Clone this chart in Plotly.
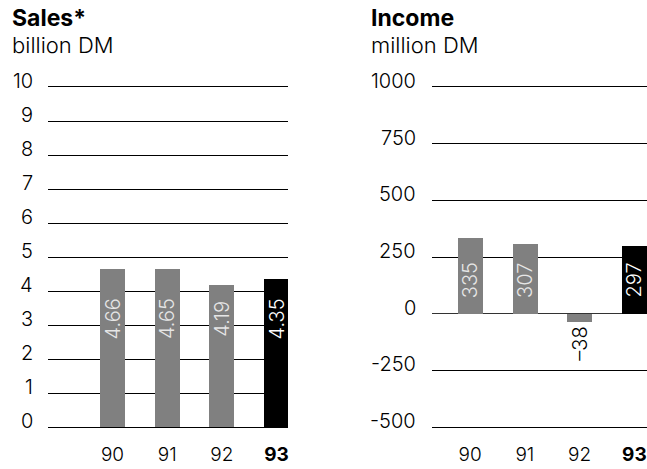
import plotly.graph_objects as go

# ---- data ----
years = ["90", "91", "92", "93"]
sales = [4.66, 4.65, 4.19, 4.35]          # billion DM
income = [335, 307, -38, 297]              # million DM
sales_ticks = [0, 1, 2, 3, 4, 5, 6, 7, 8, 9, 10]
income_ticks = [-500, -250, 0, 250, 500, 750, 1000]

W, H = 647, 469
FONT = "Inter"
GREY = "#808080"
BLACK = "#000000"


def px_x(p):
    return p / W


def px_y(p):
    return 1 - p / H


def fmt(v):
    s = f"{v:g}"
    return s.replace("-", "\u2013")


bar_colors = [GREY] * (len(years) - 1) + [BLACK]
text_colors = ["#e6e6e6"] * (len(years) - 1) + ["#ffffff"]
xs = list(range(len(years)))
ticktext = years[:-1] + [f"<b>{years[-1]}</b>"]

light = dict(family=FONT, size=20, color="#000", weight=300)
xtick_font = dict(light, size=19)

fig = go.Figure()
fig.add_trace(go.Bar(x=xs, y=sales, width=0.457, marker=dict(color=bar_colors, line=dict(width=0)),
                     xaxis="x", yaxis="y", hoverinfo="skip"))
fig.add_trace(go.Bar(x=xs, y=income, width=0.457, marker=dict(color=bar_colors, line=dict(width=0)),
                     xaxis="x2", yaxis="y2", hoverinfo="skip"))

annotations = []
# value labels, rotated, at a common height inside the bars
for i, v in enumerate(sales):
    annotations.append(dict(x=xs[i], y=3.18, xref="x", yref="y", text=fmt(v), textangle=-90,
                            showarrow=False, xanchor="center", yanchor="middle",
                            font=dict(light, color=text_colors[i])))
for i, v in enumerate(income):
    if v >= 0:
        yy, col = 148, text_colors[i]
    else:
        yy, col = v - 96, "#000000"
    annotations.append(dict(x=xs[i], y=yy, xref="x2", yref="y2", text=fmt(v), textangle=-90,
                            showarrow=False, xanchor="center", yanchor="middle",
                            font=dict(light, color=col)))

# y tick labels, sitting just above their gridlines
for ticks, yref, right_px in [(sales_ticks, "y", 35), (income_ticks, "y2", 418)]:
    for t in ticks:
        annotations.append(dict(x=px_x(right_px), y=t, xref="paper", yref=yref, text=f"{t}",
                                showarrow=False, xanchor="right", yanchor="middle", yshift=6,
                                font=light))

# panel headings
for x0, title, unit in [(10, "Sales*", "billion DM"), (369, "Income", "million DM")]:
    annotations.append(dict(x=px_x(x0), y=px_y(2), xref="paper", yref="paper", text=f"<b>{title}</b>",
                            showarrow=False, xanchor="left", yanchor="top",
                            font=dict(family=FONT, size=23, color="#000", weight=700)))
    annotations.append(dict(x=px_x(x0), y=px_y(30), xref="paper", yref="paper", text=unit,
                            showarrow=False, xanchor="left", yanchor="top",
                            font=dict(family=FONT, size=22, color="#000", weight=300)))

y_dom = [1 - 427 / H, 1 - 87 / H]

xcommon = dict(tickmode="array", tickvals=xs, ticktext=ticktext, showgrid=False, zeroline=False,
               showline=True, mirror=True, linecolor="#000", linewidth=1, ticks="",
               tickfont=xtick_font, ticklabelstandoff=10, automargin=False)
ycommon = dict(showgrid=True, gridcolor="#000", gridwidth=1, showline=False, ticks="",
               showticklabels=False, automargin=False)

fig.update_layout(
    width=W, height=H, margin=dict(l=0, r=0, t=0, b=0, autoexpand=False),
    paper_bgcolor="#ffffff", plot_bgcolor="#ffffff", showlegend=False, bargap=0,
    xaxis=dict(domain=[48 / W, 288 / W], range=[-1.18, 3.21], anchor="y", **xcommon),
    yaxis=dict(domain=y_dom, range=[0, 10], tickvals=sales_ticks, anchor="x",
               zeroline=False, **ycommon),
    xaxis2=dict(domain=[431.7 / W, 1.0], range=[-0.70, 3.23], anchor="y2", **xcommon),
    yaxis2=dict(domain=y_dom, range=[-500, 1000], tickvals=income_ticks, anchor="x2",
                zeroline=True, zerolinecolor="#333", zerolinewidth=1, **ycommon),
    annotations=annotations,
)

fig.write_html("out.html")
